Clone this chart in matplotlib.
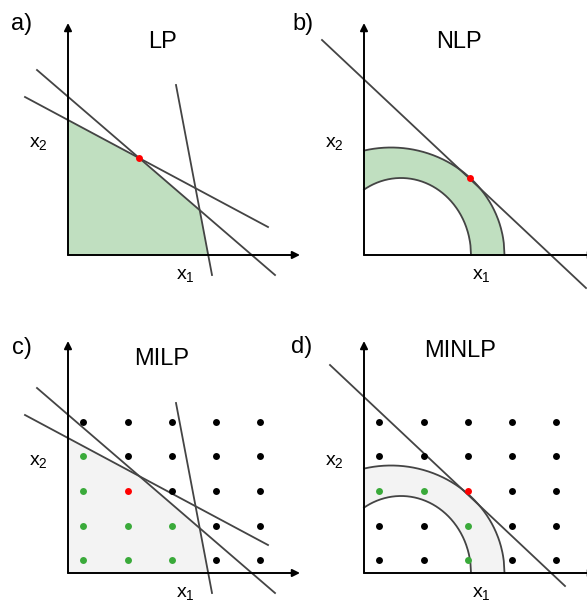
import numpy as np
import matplotlib.pyplot as plt

plt.rcParams['font.family'] = ['Liberation Sans', 'DejaVu Sans']
plt.rcParams['mathtext.fontset'] = 'custom'
plt.rcParams['mathtext.rm'] = 'Liberation Sans'
plt.rcParams['mathtext.it'] = 'Liberation Sans'

W, H = 587, 601

# panel origins in image pixels (x from left, y from top)
panels = ['a', 'b', 'c', 'd']
origins = {'a': (68, 255), 'b': (364, 255), 'c': (68, 573), 'd': (364, 573)}
titles = {'a': 'LP', 'b': 'NLP', 'c': 'MILP', 'd': 'MINLP'}
title_pos = {'a': (94, 213), 'b': (95, 213), 'c': (94, 214), 'd': (96, 222)}
letter_pos = {'a': (-46, 231), 'b': (-61, 231), 'c': (-46, 225), 'd': (-62, 226)}
axis_len = 232

# linear constraints (LP / MILP), endpoints in panel units
lin_cons = [[(-43, 158), (200, 28)],
            [(-31, 185), (207, -20)],
            [(108, 170), (144, -20)]]

# nonlinear ring (NLP / MINLP): centre x, rx, ry
ring_outer = (27, 113.5, 107.5)
ring_inner = (37, 70, 77)
tangent_b = [(-42, 215), (222, -33)]
tangent_d = [(-34, 208), (201, -13)]
nlp_opt = (105.7, 77)

# integer grid (MILP / MINLP)
grid_x = [15, 60, 104, 148, 192]
grid_y = [13, 47, 82, 117, 151]
milp_feasible = [(1, 1), (1, 2), (1, 3), (1, 4), (2, 1), (2, 2), (3, 1), (3, 2)]
milp_opt = (2, 3)
minlp_feasible = [(1, 3), (2, 3), (3, 1), (3, 2)]
minlp_opt = (3, 3)

LINE = '#444444'
GREEN_FILL = '#c0dfc0'
GREY_FILL = '#f3f3f3'
DOT_GREEN = '#3aaa3a'
RED = '#ff0000'


def line_coef(seg):
    (x1, y1), (x2, y2) = seg
    m = (y2 - y1) / (x2 - x1)
    return m, y1 - m * x1


def intersect(s1, s2):
    m1, b1 = line_coef(s1)
    m2, b2 = line_coef(s2)
    x = (b2 - b1) / (m1 - m2)
    return x, m1 * x + b1


def lp_polygon():
    m1, b1 = line_coef(lin_cons[0])
    m3, b3 = line_coef(lin_cons[2])
    p12 = intersect(lin_cons[0], lin_cons[1])
    p23 = intersect(lin_cons[1], lin_cons[2])
    return [(0, 0), (0, b1), p12, p23, (-b3 / m3, 0)]


def arc(ring, n=200, reverse=False):
    cx, rx, ry = ring
    xs = np.linspace(0, cx + rx, n)
    ys = ry * np.sqrt(np.clip(1 - ((xs - cx) / rx) ** 2, 0, None))
    if reverse:
        return xs[::-1], ys[::-1]
    return xs, ys


def make_axes(fig, key):
    ox, oy = origins[key]
    ax = fig.add_axes([0, 0, 1, 1])
    ax.set_xlim(-ox, W - ox)
    ax.set_ylim(-(H - oy), oy)
    ax.patch.set_alpha(0)
    ax.axis('off')
    return ax


def draw_frame(ax, key):
    arrow = dict(arrowstyle='-|>', color='black', lw=1.4,
                 mutation_scale=11, shrinkA=0, shrinkB=0)
    ax.annotate('', xy=(0, axis_len), xytext=(0, 0), arrowprops=arrow,
                annotation_clip=False, zorder=4)
    ax.annotate('', xy=(axis_len, 0), xytext=(0, 0), arrowprops=arrow,
                annotation_clip=False, zorder=4)
    lx, ly = letter_pos[key]
    ax.text(lx, ly, key + ')', fontsize=17, ha='center', va='center')
    tx, ty = title_pos[key]
    ax.text(tx, ty, titles[key], fontsize=17, ha='center', va='center')
    ax.text(-30, 111, r'$\mathregular{x_2}$', fontsize=14, ha='center', va='center')
    ax.text(117, -20, r'$\mathregular{x_1}$', fontsize=14, ha='center', va='center')


def draw_dots(ax, feasible, opt):
    for i, gx in enumerate(grid_x, start=1):
        for j, gy in enumerate(grid_y, start=1):
            if (i, j) == opt:
                c = RED
            elif (i, j) in feasible:
                c = DOT_GREEN
            else:
                c = 'black'
            ax.plot(gx, gy, 'o', ms=5, color=c, mec='none', zorder=5)


def draw_ring(ax, fill):
    xo, yo = arc(ring_outer)
    xi, yi = arc(ring_inner, reverse=True)
    ax.fill(np.r_[xo, xi], np.r_[yo, yi], color=fill, lw=0, zorder=1)
    ax.plot(xo, yo, color=LINE, lw=1.3, zorder=2)
    ax.plot(xi, yi, color=LINE, lw=1.3, zorder=2)


fig = plt.figure(figsize=(W / 100, H / 100), dpi=100)

# a) LP
ax = make_axes(fig, 'a')
poly = np.array(lp_polygon())
ax.fill(poly[:, 0], poly[:, 1], color=GREEN_FILL, lw=0, zorder=1)
for seg in lin_cons:
    ax.plot(*zip(*seg), color=LINE, lw=1.3, zorder=3)
opt = intersect(lin_cons[0], lin_cons[1])
ax.plot(*opt, 'o', ms=5, color=RED, mec='none', zorder=5)
draw_frame(ax, 'a')

# b) NLP
ax = make_axes(fig, 'b')
draw_ring(ax, GREEN_FILL)
ax.plot(*zip(*tangent_b), color=LINE, lw=1.3, zorder=3)
ax.plot(*nlp_opt, 'o', ms=5, color=RED, mec='none', zorder=5)
draw_frame(ax, 'b')

# c) MILP
ax = make_axes(fig, 'c')
ax.fill(poly[:, 0], poly[:, 1], color=GREY_FILL, lw=0, zorder=1)
for seg in lin_cons:
    ax.plot(*zip(*seg), color=LINE, lw=1.3, zorder=3)
draw_dots(ax, milp_feasible, milp_opt)
draw_frame(ax, 'c')

# d) MINLP
ax = make_axes(fig, 'd')
draw_ring(ax, GREY_FILL)
ax.plot(*zip(*tangent_d), color=LINE, lw=1.3, zorder=3)
draw_dots(ax, minlp_feasible, minlp_opt)
draw_frame(ax, 'd')

fig.savefig('out.png', dpi=100)
